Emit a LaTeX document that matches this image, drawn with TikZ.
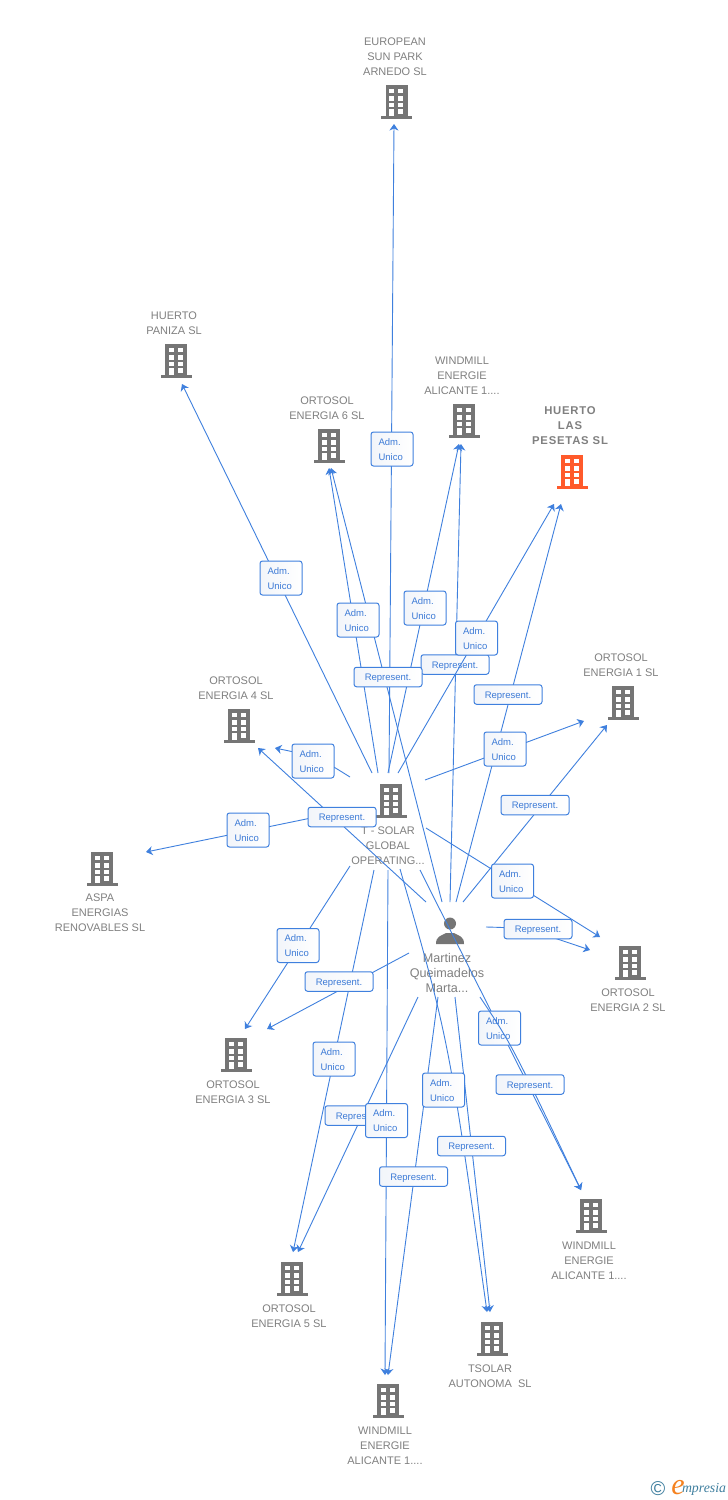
\documentclass[tikz,border=0pt]{standalone}
\usepackage{fontspec}
\setmainfont{Liberation Sans}
\newfontfamily\trackfont[LetterSpace=7]{Liberation Sans}
\newfontfamily\logofont{Liberation Serif}
\usetikzlibrary{arrows.meta}
\definecolor{linkblue}{HTML}{3F80DE}
\definecolor{labblue}{HTML}{3C7AD6}
\definecolor{labshade}{HTML}{F2F5FA}
\definecolor{iconGray}{HTML}{757575}
\definecolor{txtGray}{HTML}{808080}
\definecolor{hiOrange}{HTML}{FF5A2B}
\definecolor{logoTeal}{HTML}{3F7F9F}
\definecolor{logoOrange}{HTML}{F58220}
\tikzset{
  edge/.style={draw=linkblue,line width=0.9bp,-{Stealth[length=6.5bp,width=9bp,inset=2bp]}},
  adm/.style={draw=linkblue,line width=1bp,rounded corners=2.5bp,left color=labshade,right color=white,
    minimum width=42bp,minimum height=34bp,inner sep=0pt,text=labblue,text width=27bp,align=left,
    text height=9bp,text depth=17bp,
    font=\fontsize{9.5bp}{15bp}\selectfont},
  rep/.style={draw=linkblue,line width=1bp,rounded corners=2.5bp,left color=labshade,right color=white,
    minimum width=68bp,minimum height=19.5bp,inner sep=0pt,text=labblue,
    text height=9bp,text depth=2bp,
    font=\fontsize{9.5bp}{12bp}\selectfont},
  ent/.style={inner sep=0pt,text=txtGray,align=center,font=\fontsize{11bp}{15bp}\selectfont},
  entbig/.style={inner sep=0pt,text=txtGray,align=center,font=\fontsize{12.6bp}{15bp}\selectfont},
  enthi/.style={inner sep=0pt,text=txtGray,align=center,font=\trackfont\bfseries\fontsize{11.3bp}{15bp}\selectfont},
  pics/bldg/.style={code={
    \fill[#1] (-11,0) rectangle (11,33);
    \fill[#1] (-15.5,31) rectangle (15.5,33.5);
    \foreach \yy in {3.5,11,17.5}{
      \fill[white] (-7.5,\yy) rectangle (-2.5,\yy+4.5);
      \fill[white] (1.5,\yy) rectangle (6.5,\yy+4.5);
    }
    \fill[white] (1.5,24) rectangle (6.5,28.5);
    \fill[white] (-7.5,24) rectangle (-2.5,31);
  }},
}
\newcommand{\ADM}{Adm.\\[0pt]Unico}
\newcommand{\REP}{Represent.}
% name, start, end
\newcommand{\link}[3]{%
  \coordinate (#1a) at (#2);
  \coordinate (#1b) at (#3);
  \draw[edge] (#1a) -- (#1b);
}
% name, start, control, end
\newcommand{\linkc}[4]{%
  \coordinate (#1a) at (#2);
  \coordinate (#1c) at (#3);
  \coordinate (#1b) at (#4);
  \draw[edge] (#1a) .. controls (#1c) .. (#1b);
}
\begin{document}
\begin{tikzpicture}[x=1bp,y=-1bp]
\useasboundingbox (0,0) rectangle (728,1500);
\fill[white] (0,0) rectangle (728,1500);

% buildings
\pic (iEuro) at (396.5,85.5) {bldg=iconGray};
\pic (iPaniza) at (176,344) {bldg=iconGray};
\pic (iOrt6) at (329,429) {bldg=iconGray};
\pic (iWindT) at (464,404) {bldg=iconGray};
\pic (iPes) at (572,455) {bldg=hiOrange};
\pic (iOrt1) at (623,686) {bldg=iconGray};
\pic (iOrt4) at (239,709) {bldg=iconGray};
\pic (iSolar) at (391,784) {bldg=iconGray};
\pic (iAspa) at (102,852) {bldg=iconGray};
\pic (iOrt2) at (630,946) {bldg=iconGray};
\pic (iOrt3) at (236,1038) {bldg=iconGray};
\pic (iWindR) at (591,1199) {bldg=iconGray};
\pic (iOrt5) at (292,1262) {bldg=iconGray};
\pic (iTsol) at (492,1322) {bldg=iconGray};
\pic (iWindB) at (388,1384) {bldg=iconGray};

% person
\fill[iconGray] (450,923.5) circle (6bp);
\fill[iconGray] (436,944) .. controls (436,936) and (441,936) .. (446,933) -- (454,933)
  .. controls (459,936) and (464,936) .. (464,944) -- cycle;

% entity names
\node[ent] (nEuro) at (395,57) {EUROPEAN\\SUN PARK\\ARNEDO SL};
\node[ent] (nPaniza) at (174,323.5) {HUERTO\\PANIZA SL};
\node[ent] (nOrt6) at (327,408.5) {ORTOSOL\\ENERGIA 6 SL};
\node[ent] (nWindT) at (462,376) {WINDMILL\\ENERGIE\\ALICANTE 1....};
\node[enthi] (nPes) at (570,426) {HUERTO\\LAS\\PESETAS SL};
\node[ent] (nOrt1) at (621,665.5) {ORTOSOL\\ENERGIA 1 SL};
\node[ent] (nOrt4) at (236,688.5) {ORTOSOL\\ENERGIA 4 SL};
\node[ent] (nSolar) at (388,846) {T - SOLAR\\GLOBAL\\OPERATING...};
\node[ent] (nAspa) at (100,913) {ASPA\\ENERGIAS\\RENOVABLES SL};
\node[entbig] (nMart) at (447,973) {Martinez\\Queimadelos\\Marta...};
\node[ent] (nOrt2) at (628,1000.5) {ORTOSOL\\ENERGIA 2 SL};
\node[ent] (nOrt3) at (233,1092.5) {ORTOSOL\\ENERGIA 3 SL};
\node[ent] (nWindR) at (589,1261) {WINDMILL\\ENERGIE\\ALICANTE 1....};
\node[ent] (nOrt5) at (289,1316.5) {ORTOSOL\\ENERGIA 5 SL};
\node[ent] (nTsol) at (490,1376.5) {TSOLAR\\AUTONOMA\ \ SL};
\node[ent] (nWindB) at (385,1446) {WINDMILL\\ENERGIE\\ALICANTE 1....};

% connectors
\link{mWindT}{450,902}{461,444}
\link{tEuro}{389,773}{394,124}
\link{tPaniza}{372,773}{182,384}
\link{tOrt6}{378,773}{329,468}
\link{tWindT}{388,773}{459,444}
\link{mOrt6}{442,902}{331,468}
\link{mPes}{456,902}{561,504}
\link{tOrt1}{425,780}{584,721}
\link{mOrt1}{463,902}{607,725}
\linkc{tOrt4}{350,777}{318,757}{275,748}
\link{tAspa}{350,810}{146,852}
\link{mOrt4}{426,902}{258,748}
\link{tOrt2}{426,828}{600,937}
\linkc{mOrt2}{486,927}{525,928}{590,950}
\link{tOrt3}{350,866}{245,1029}
\link{mOrt3}{409,953}{267,1029}
\link{tOrt5}{374,870}{293,1252}
\link{mOrt5}{418,997}{298,1252}
\link{tWindB}{388,870}{385,1375}
\linkc{tTsol}{400,869}{449,1040}{487,1312}
\link{mWindB}{438,997}{388,1375}
\link{mTsol}{455,997}{490,1312}
\link{tWindR}{420,870}{581,1190}

% labels, in stacking order
\node[rep] (lmWindT) at (455,664.5) {\REP};
\link{tPes}{398,773}{554,504}
\node[adm] (ltEuro) at (392,449) {\ADM};
\node[adm] (ltPaniza) at (281,578) {\ADM};
\node[adm] (ltOrt6) at (358,620) {\ADM};
\node[adm] (ltWindT) at (425,608) {\ADM};
\node[adm] (ltPes) at (476.5,638) {\ADM};
\node[rep] (lmOrt6) at (388,677) {\REP};
\node[rep] (lmPes) at (508,694.5) {\REP};
\node[adm] (ltOrt1) at (505,749) {\ADM};
\node[rep] (lmOrt1) at (535,805) {\REP};
\node[adm] (ltOrt4) at (313,761) {\ADM};
\node[adm] (ltAspa) at (248,830) {\ADM};
\node[rep] (lmOrt4) at (342,817) {\REP};
\node[adm] (ltOrt2) at (512.5,881) {\ADM};
\node[rep] (lmOrt2) at (538,929) {\REP};
\node[adm] (ltOrt3) at (298,945.5) {\ADM};
\node[rep] (lmOrt3) at (339,981.5) {\REP};
\node[adm] (ltOrt5) at (334,1059) {\ADM};
\node[rep] (lmOrt5) at (359,1115.5) {\REP};
\node[adm] (ltWindB) at (386.5,1120.5) {\ADM};
\node[adm] (ltTsol) at (443.5,1090) {\ADM};
\node[rep] (lmWindB) at (413.5,1176.5) {\REP};
\node[rep] (lmTsol) at (471.5,1146) {\REP};
\node[adm] (ltWindR) at (499.5,1028) {\ADM};
\linkc{mWindR}{480,997}{512,1045}{581,1190}
\node[rep] (lmWindR) at (530,1084.5) {\REP};

% logo
\node[inner sep=0pt,text=logoTeal,font=\fontsize{20bp}{20bp}\selectfont] (logoC) at (658,1488.5) {©};
\node[inner sep=0pt,text=logoOrange,font=\logofont\itshape\fontsize{30bp}{30bp}\selectfont] (logoE) at (678,1487.5) {e};
\node[inner sep=0pt,text=logoTeal,font=\logofont\itshape\fontsize{13.8bp}{14bp}\selectfont] (logoT) at (704,1489.5) {mpresia};
\end{tikzpicture}
\end{document}
